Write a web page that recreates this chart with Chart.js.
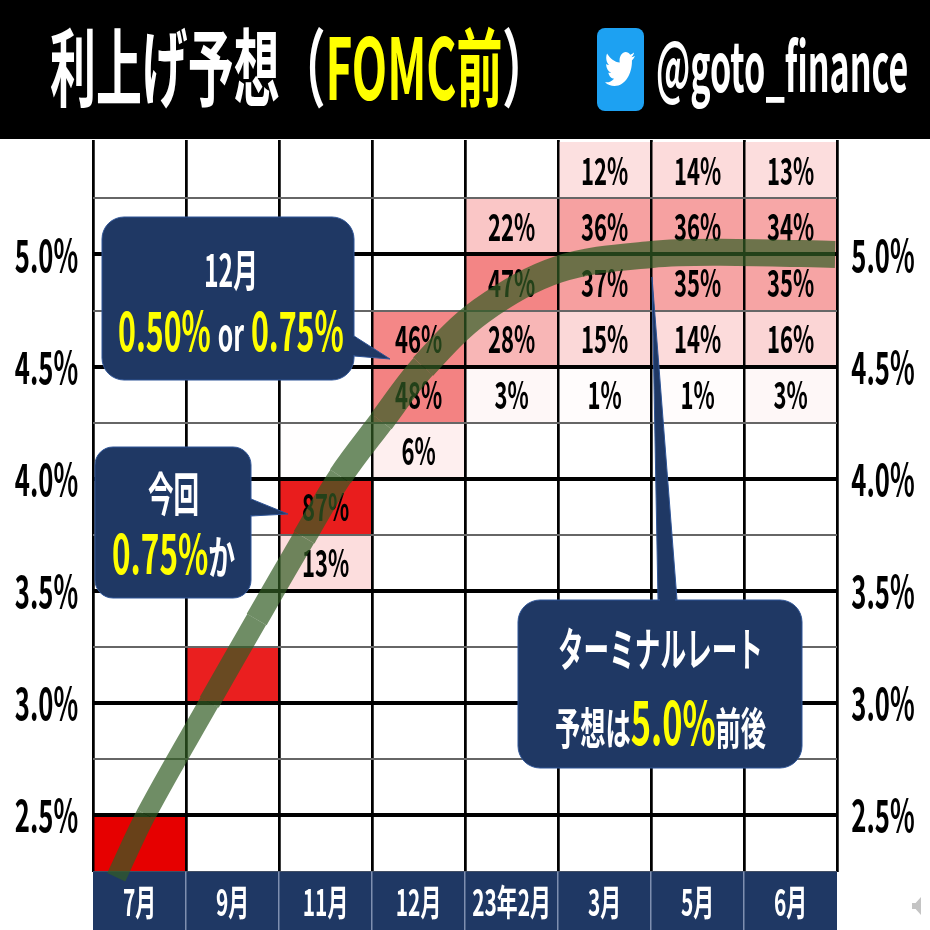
<!DOCTYPE html>
<html>
<head>
<meta charset="utf-8">
<script src="https://cdn.jsdelivr.net/npm/chart.js@4/dist/chart.umd.js"></script>
<style>
  html, body { margin: 0; background: #fff; }
  #wrap { position: relative; width: 930px; height: 930px; overflow: hidden; font-family: "Noto Sans CJK JP", sans-serif; font-weight: 700; }
  #head { position: absolute; left: 0; top: 0; width: 930px; height: 139px; background: #000; }
  canvas { position: absolute; left: 0; top: 0; }
  .t { position: absolute; white-space: nowrap; line-height: 1; transform-origin: left center; color: #fff; }
  .y { color: #ff0; }
  svg { position: absolute; overflow: visible; }
</style>
</head>
<body>
<div id="wrap">
  <canvas id="rates" width="930" height="930"></canvas>
  <div id="head"></div>
  <svg style="left:597px;top:28px" width="47" height="83"><rect width="47" height="83" rx="8" fill="#1da1f2"/>
    <svg x="8" y="20" width="30" height="42" viewBox="0 0 24 24" preserveAspectRatio="none"><path fill="#fff" d="M23.954 4.569c-.885.389-1.83.654-2.825.775 1.014-.611 1.794-1.574 2.163-2.723-.951.555-2.005.959-3.127 1.184-.896-.959-2.173-1.559-3.591-1.559-2.717 0-4.92 2.203-4.92 4.917 0 .39.045.765.127 1.124C7.691 8.094 4.066 6.13 1.64 3.161c-.427.722-.666 1.561-.666 2.475 0 1.71.87 3.213 2.188 4.096-.807-.026-1.566-.248-2.228-.616v.061c0 2.385 1.693 4.374 3.946 4.827-.413.111-.849.171-1.296.171-.314 0-.615-.03-.916-.086.631 1.953 2.445 3.377 4.604 3.417-1.68 1.319-3.809 2.105-6.102 2.105-.39 0-.779-.023-1.17-.067 2.189 1.394 4.768 2.209 7.557 2.209 9.054 0 13.999-7.496 13.999-13.986 0-.209 0-.42-.015-.63.961-.689 1.8-1.56 2.46-2.548l-.047-.02z"/></svg>
  </svg>
  <div class="t" data-x="50" data-cy="62" data-w="498" style="font-size:85px">利上げ予想（<span class="y">FOMC前</span>）</div>
  <div class="t" data-x="656" data-cy="63" data-w="252" style="font-size:68px">@goto_finance</div>

  <!-- callouts -->
  <svg style="left:0;top:0" width="930" height="930">
    <g fill="#1f3864" stroke="#2f5597" stroke-width="1">
      <path d="M354 336L390 359L354 356Z"/>
      <path d="M251 499L288 514L251 516Z"/>
      <path d="M658 600L652 277L677 600Z"/>
      <rect x="102" y="217" width="252" height="163" rx="22"/>
      <rect x="95" y="447" width="156" height="151" rx="18"/>
      <rect x="518" y="600" width="284" height="168" rx="22"/>
    </g>
    <g fill="#1f3864"><rect x="340" y="337" width="16" height="18"/><rect x="240" y="500" width="14" height="15"/><rect x="660" y="595" width="15" height="8"/></g>
    <g transform="translate(912 897) scale(.9 1)" fill="#c4c4c4"><path d="M0 6H4L10 0V18L4 12H0Z"/></g>
  </svg>
  <div class="t" data-x="204" data-cy="268" data-w="54" style="font-size:44px">12月</div>
  <div class="t" data-x="118" data-cy="328" data-w="226" style="font-size:54px"><span class="y">0.50%</span> <span style="font-size:44px">or</span> <span class="y">0.75%</span></div>
  <div class="t" data-x="148" data-cy="491" data-w="51" style="font-size:46px">今回</div>
  <div class="t" data-x="112" data-cy="551" data-w="123" style="font-size:54px"><span class="y">0.75%</span><span style="font-size:46px">か</span></div>
  <div class="t" data-x="558" data-cy="646" data-w="205" style="font-size:46px">ターミナルレート</div>
  <div class="t" data-x="555" data-cy="719" data-w="211" style="font-size:44px">予想は<span class="y" style="font-size:60px">5.0%</span>前後</div>
</div>

<script>
const months = ['7月', '9月', '11月', '12月', '23年2月', '3月', '5月', '6月'];
// lower edge of each 0.25 bucket
const bucketFloors = [2.25, 2.5, 2.75, 3.0, 3.25, 3.5, 3.75, 4.0, 4.25, 4.5, 4.75, 5.0, 5.25];
// probability per bucket, one list per meeting
const probJul = [100, 0, 0, 0, 0, 0, 0, 0, 0, 0, 0, 0, 0];
const probSep = [0, 0, 0, 86, 0, 0, 0, 0, 0, 0, 0, 0, 0];
const probNov = [0, 0, 0, 0, 0, 13, 87, 0.5, 0, 0, 0, 0, 0];
const probDec = [0, 0, 0, 0, 0, 0, 0, 6, 48, 46, 0, 0, 0];
const probFeb = [0, 0, 0, 0, 0, 0, 0, 0, 3, 28, 47, 22, 0];
const probMar = [0, 0, 0, 0, 0, 0, 0, 0, 1, 15, 37, 36, 12];
const probMay = [0, 0, 0, 0, 0, 0, 0, 0, 1, 14, 35, 36, 14];
const probJun = [0, 0, 0, 0, 0, 0, 0, 0, 3, 16, 35, 34, 13];
const allProbs = [probJul, probSep, probNov, probDec, probFeb, probMar, probMay, probJun];
const firstLabelled = 2; // the first two meetings show no percentages
const rateLabels = [2.5, 3.0, 3.5, 4.0, 4.5, 5.0];
// expected path, x in meeting index
const pathX = [-0.25, 0.07, 0.75, 1.26, 1.77, 2.16, 2.6, 3.05, 3.68, 4.5, 5.51, 6.42, 7.48];
const pathY = [2.224, 2.504, 3.004, 3.373, 3.739, 4.011, 4.256, 4.5, 4.75, 4.933, 5.0, 5.009, 5.0];

// squeeze the overlay text to the widths in the picture
document.querySelectorAll('.t').forEach(el => {
  el.style.left = el.dataset.x + 'px';
  el.style.top = el.dataset.cy + 'px';
  const sx = el.dataset.w / el.offsetWidth;
  el.style.transform = 'translateY(-50%) scaleX(' + sx + ')';
});

const cells = [];
allProbs.forEach((list, m) => list.forEach((pct, b) => {
  if (pct > 0) cells.push({ x: months[m], y: [bucketFloors[b], bucketFloors[b] + 0.25], pct: pct, m: m });
}));

function cellColor(c) {
  const pct = c.raw ? c.raw.pct : 0;
  const r = Math.round(255 - 0.25 * pct);
  const g = Math.max(0, Math.round(255 - 2.6 * pct));
  return 'rgb(' + r + ',' + g + ',' + g + ')';
}

function squeezed(ctx, text, x, y, size, color, sx) {
  ctx.save();
  ctx.translate(x, y);
  ctx.scale(sx, 1);
  ctx.font = '700 ' + size + 'px "Noto Sans CJK JP"';
  ctx.fillStyle = color;
  ctx.textAlign = 'center';
  ctx.textBaseline = 'middle';
  ctx.fillText(text, 0, 0);
  ctx.restore();
}

// grid, texts and footer go between the cells and the see-through path
const cellOverlay = {
  id: 'cellOverlay',
  afterDatasetDraw(chart, args) {
    if (args.index !== 0) return;
    const { ctx, chartArea: area, scales: { x, y } } = chart;
    x.drawGrid(area);
    y.drawGrid(area);

    cells.forEach(c => {
      if (c.m < firstLabelled || c.pct < 1) return;
      squeezed(ctx, c.pct + '%', x.getPixelForValue(c.m), y.getPixelForValue(c.y[0] + 0.125), 38, '#000', 0.58);
    });

    ctx.fillStyle = '#1f3864';
    ctx.fillRect(area.left, area.bottom, area.right - area.left, 930 - area.bottom);
    months.forEach((name, i) => {
      const cx = x.getPixelForValue(i);
      squeezed(ctx, name, cx, 902, 36, '#fff', 0.58);
      if (i > 0) {
        ctx.fillStyle = '#7f8fb0';
        ctx.fillRect(cx - 46.5 - 1, area.bottom, 1.5, 930 - area.bottom);
      }
    });

    rateLabels.forEach(v => {
      const py = y.getPixelForValue(v);
      const txt = v.toFixed(1) + '%';
      squeezed(ctx, txt, 46.5, py, 45, '#000', 0.57);
      squeezed(ctx, txt, 883, py, 45, '#000', 0.57);
    });
  }
};

new Chart(document.getElementById('rates'), {
  type: 'bar',
  data: {
    labels: months,
    datasets: [{
      data: cells,
      order: 1,
      grouped: false,
      barPercentage: 1,
      categoryPercentage: 1,
      borderWidth: 0,
      backgroundColor: cellColor
    }, {
      type: 'line',
      xAxisID: 'x2',
      data: pathX.map((v, i) => ({ x: v, y: pathY[i] })),
      order: 0,
      clip: false,
      borderColor: 'rgba(50,93,36,0.7)',
      borderWidth: 24,
      borderCapStyle: 'butt',
      borderJoinStyle: 'round',
      tension: 0.35,
      // the band gets wider towards the right, flat from the 12月 side on
      segment: { borderWidth: c => 20 + 7 * Math.min(1, Math.max(0, c.p0.parsed.x) / 3.05) },
      pointRadius: 0,
      fill: false
    }]
  },
  plugins: [cellOverlay],
  options: {
    responsive: false,
    devicePixelRatio: 1,
    animation: false,
    layout: { padding: { left: 93, right: 93, top: 140, bottom: 58.5 } },
    plugins: { legend: { display: false }, tooltip: { enabled: false } },
    scales: {
      x: {
        type: 'category',
        grid: { offset: true, color: '#000', lineWidth: 2.5, drawTicks: false },
        border: { display: false },
        ticks: { display: false }
      },
      x2: { type: 'linear', display: false, offset: false, min: -0.5, max: 7.5 },
      y: {
        min: 2.25,
        max: 5.51,
        afterBuildTicks(scale) {
          scale.ticks = bucketFloors.map(v => ({ value: v }));
        },
        grid: {
          drawTicks: false,
          color: c => (c.tick.value * 2) % 1 === 0 ? '#000' : '#666',
          lineWidth: c => (c.tick.value * 2) % 1 === 0 ? 4 : 2
        },
        border: { display: false },
        ticks: { display: false }
      }
    }
  }
});
</script>
</body>
</html>
